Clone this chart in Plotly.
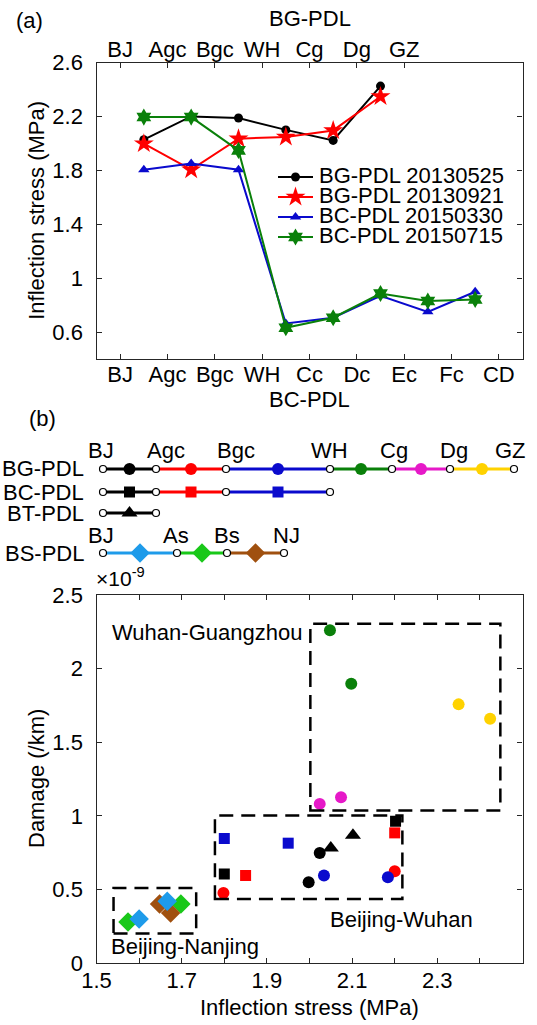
import plotly.graph_objects as go

W, H = 537, 1025
FONT = "Arial, Liberation Sans, Helvetica, sans-serif"
AX = "#262626"
FS = 22

# ---------------- Panel (a) data ----------------
top_stations = ["BJ", "Agc", "Bgc", "WH", "Cg", "Dg", "GZ"]
bottom_stations = ["BJ", "Agc", "Bgc", "WH", "Cc", "Dc", "Ec", "Fc", "CD"]
bg_segments = [1.5, 2.5, 3.5, 4.5, 5.5, 6.5]
bc_segments = [1.5, 2.5, 3.5, 4.5, 5.5, 6.5, 7.5, 8.5]
bg_20130525 = [2.027, 2.200, 2.188, 2.100, 2.022, 2.425]
bg_20130921 = [1.998, 1.805, 2.035, 2.047, 2.096, 2.348]
bc_20150330 = [1.805, 1.850, 1.805, 0.664, 0.706, 0.869, 0.750, 0.899]
bc_20150715 = [2.195, 2.195, 1.948, 0.632, 0.706, 0.886, 0.830, 0.842]
series_names = ["BG-PDL 20130525", "BG-PDL 20130921", "BC-PDL 20150330", "BC-PDL 20150715"]
a_yticks = [0.6, 1.0, 1.4, 1.8, 2.2, 2.6]
a_yticklabels = ["0.6", "1", "1.4", "1.8", "2.2", "2.6"]

# ---------------- Panel (b) schematic routes ----------------
bg_route = ["BJ", "Agc", "Bgc", "WH", "Cg", "Dg", "GZ"]
bc_route = ["BJ", "Agc", "Bgc", "WH"]
bt_route = ["BJ", "Agc"]
bs_route = ["BJ", "As", "Bs", "NJ"]
line_names = ["BG-PDL", "BC-PDL", "BT-PDL", "BS-PDL"]

# ---------------- Panel (b) scatter data: inflection stress (MPa), damage (/km) ----------------
green_c_x = [2.048, 2.098];  green_c_y = [2.26e-9, 1.897e-9]
gold_c_x = [2.350, 2.424];   gold_c_y = [1.757e-9, 1.659e-9]
mag_c_x = [2.024, 2.074];    mag_c_y = [1.081e-9, 1.126e-9]
black_c_x = [2.024, 1.998];  black_c_y = [0.748e-9, 0.549e-9]
red_c_x = [1.798, 2.200];    red_c_y = [0.476e-9, 0.623e-9]
blue_c_x = [2.034, 2.184];   blue_c_y = [0.594e-9, 0.583e-9]
red_s_x = [2.200, 1.850];    red_s_y = [0.884e-9, 0.594e-9]
black_s_x = [2.202, 1.800];  black_s_y = [0.963e-9, 0.605e-9]
blue_s_x = [1.800, 1.950];   blue_s_y = [0.845e-9, 0.814e-9]
black_t_x = [2.050, 2.102];  black_t_y = [0.782e-9, 0.868e-9]
green_d_x = [1.574, 1.698];  green_d_y = [0.279e-9, 0.401e-9]
brown_d_x = [1.648, 1.674];  brown_d_y = [0.401e-9, 0.340e-9]
lblue_d_x = [1.600, 1.666];  lblue_d_y = [0.299e-9, 0.419e-9]
b_yticks = [0, 0.5e-9, 1.0e-9, 1.5e-9, 2.0e-9, 2.5e-9]
b_yticklabels = ["0", "0.5", "1", "1.5", "2", "2.5"]
groups = [  # region boxes: name, x0, x1, y0, y1
    ("Wuhan-Guangzhou", 2.002, 2.448, 1.036e-9, 2.305e-9),
    ("Beijing-Wuhan", 1.778, 2.218, 0.435e-9, 1.002e-9),
    ("Beijing-Nanjing", 1.540, 1.734, 0.200e-9, 0.510e-9),
]

# ---------------- styles ----------------
C = dict(black="#000000", red="#FF0000", blue="#0A0ACD", green="#0A800A",
         magenta="#E619C8", gold="#FFD200", lblue="#1E9BEA", lgreen="#19C819",
         brown="#A0500F")
a_styles = [
    dict(color=C["black"], symbol="circle", size=9),
    dict(color=C["red"], symbol="star", size=15),
    dict(color=C["blue"], symbol="triangle-up", size=10),
    dict(color=C["green"], symbol="hexagram", size=13),
]


def fx(px):
    return px / W


def fy(py):
    return 1 - py / H


# layout geometry in pixels
A_L, A_R, A_T, A_B = 96.5, 522.5, 62.5, 359
B_L, B_R, B_T, B_B = 96.5, 522.5, 595, 963

fig = go.Figure()

# ---- panel (a) traces
a_x = [bg_segments, bg_segments, bc_segments, bc_segments]
a_y = [bg_20130525, bg_20130921, bc_20150330, bc_20150715]
for xs, ys, nm, st in zip(a_x, a_y, series_names, a_styles):
    fig.add_trace(go.Scatter(
        x=xs, y=ys, name=nm, mode="lines+markers", xaxis="x", yaxis="y",
        line=dict(color=st["color"], width=2),
        marker=dict(color=st["color"], symbol=st["symbol"], size=st["size"],
                    line=dict(width=0)),
        showlegend=False, cliponaxis=False))
# top station axis (BG-PDL) needs a trace to be drawn
fig.add_trace(go.Scatter(x=[1], y=[None], xaxis="x2", yaxis="y", mode="markers",
                         showlegend=False, hoverinfo="skip"))

# ---- panel (b) scatter traces
sc = [
    (green_c_x, green_c_y, C["green"], "circle", 12),
    (gold_c_x, gold_c_y, C["gold"], "circle", 12),
    (mag_c_x, mag_c_y, C["magenta"], "circle", 12),
    (red_c_x, red_c_y, C["red"], "circle", 12),
    (black_c_x, black_c_y, C["black"], "circle", 12),
    (blue_c_x, blue_c_y, C["blue"], "circle", 12),
    (red_s_x, red_s_y, C["red"], "square", 11),
    (black_s_x, black_s_y, C["black"], "square", 11),
    (blue_s_x, blue_s_y, C["blue"], "square", 11),
    (black_t_x, black_t_y, C["black"], "triangle-up", 14),
    (green_d_x, green_d_y, C["lgreen"], "diamond", 15),
    (brown_d_x, brown_d_y, C["brown"], "diamond", 15),
    (lblue_d_x, lblue_d_y, C["lblue"], "diamond", 15),
]
for xs, ys, col, sym, sz in sc:
    fig.add_trace(go.Scatter(
        x=xs, y=ys, mode="markers", xaxis="x3", yaxis="y3",
        marker=dict(color=col, symbol=sym, size=sz, line=dict(width=0)),
        showlegend=False))

for nm, x0, x1, y0, y1 in groups:
    fig.add_shape(type="rect", xref="x3", yref="y3", x0=x0, x1=x1, y0=y0, y1=y1,
                  line=dict(color="black", width=2.5, dash="14px,8px"))

# ---- overlay pixel axis (x4/y4) for schematic and legend
bg_node_px = [103, 156, 226, 330, 392, 450, 514]
bs_node_px = [103, 177, 227, 284]
row_y = [469, 492, 513, 553]
bg_seg_colors = [C["black"], C["red"], C["blue"], C["green"], C["magenta"], C["gold"]]
bc_seg_colors = [C["black"], C["red"], C["blue"]]
bt_seg_colors = [C["black"]]
bs_seg_colors = [C["lblue"], C["lgreen"], C["brown"]]
routes = [
    (bg_route, bg_node_px, bg_seg_colors, "circle", 12),
    (bc_route, bg_node_px[:4], bc_seg_colors, "square", 11),
    (bt_route, bg_node_px[:2], bt_seg_colors, "triangle-up", 14),
    (bs_route, bs_node_px, bs_seg_colors, "diamond", 15),
]
for (route, nodes, cols, sym, sz), ry in zip(routes, row_y):
    for i, col in enumerate(cols):
        xa, xb = nodes[i], nodes[i + 1]
        fig.add_trace(go.Scatter(
            x=[xa, xb], y=[ry, ry], mode="lines", xaxis="x4", yaxis="y4",
            line=dict(color=col, width=3), showlegend=False, hoverinfo="skip"))
        fig.add_trace(go.Scatter(
            x=[(xa + xb) / 2], y=[ry], mode="markers", xaxis="x4", yaxis="y4",
            marker=dict(color=col, symbol=sym, size=sz, line=dict(width=0)),
            showlegend=False, hoverinfo="skip"))
    fig.add_trace(go.Scatter(
        x=nodes, y=[ry] * len(nodes), mode="markers", xaxis="x4", yaxis="y4",
        marker=dict(color="white", symbol="circle", size=7,
                    line=dict(color="black", width=1.2)),
        showlegend=False, hoverinfo="skip"))

# manual legend for panel (a)
leg_y = [177, 197, 217, 237]
for nm, st, ly in zip(series_names, a_styles, leg_y):
    fig.add_trace(go.Scatter(
        x=[278, 295.5, 313], y=[ly, ly, ly], mode="lines", xaxis="x4", yaxis="y4",
        line=dict(color=st["color"], width=2), showlegend=False, hoverinfo="skip"))
    fig.add_trace(go.Scatter(
        x=[295.5], y=[ly], mode="markers", xaxis="x4", yaxis="y4",
        marker=dict(color=st["color"], symbol=st["symbol"], size=st["size"],
                    line=dict(width=0)),
        showlegend=False, hoverinfo="skip"))
fig.add_trace(go.Scatter(
    x=[319] * 4, y=leg_y, text=series_names, mode="text", textposition="middle right",
    xaxis="x4", yaxis="y4", textfont=dict(family=FONT, size=FS, color="black"),
    showlegend=False, hoverinfo="skip"))

ann = []


def text(x, y, s, size=FS, xanchor="center", yanchor="middle", angle=0):
    ann.append(dict(x=fx(x), y=fy(y), xref="paper", yref="paper", text=s,
                    showarrow=False, xanchor=xanchor, yanchor=yanchor,
                    textangle=angle, font=dict(family=FONT, size=size, color="black")))


text(30, 20, "(a)")
text(310, 18, "BG-PDL")
text(309, 399, "BC-PDL")
text(37, (A_T + A_B) / 2, "Inflection stress (MPa)", angle=-90)
text(42, 419, "(b)")

# schematic labels
bg_label_px = [101, 166, 236, 329, 394, 454, 510]
bs_label_px = [101, 176, 227, 286]
for s, x in zip(bg_route, bg_label_px):
    text(x, 451, s)
for s, x in zip(bs_route, bs_label_px):
    text(x, 535, s)
for s, ry in zip(line_names, row_y):
    text(86, ry, s, xanchor="right")

# panel (b) texts
text(36, (B_T + B_B) / 2, "Damage (/km)", angle=-90)
text(309, 1007, "Inflection stress (MPa)")
ann.append(dict(x=fx(94), y=fy(592), xref="paper", yref="paper",
                text="\u00d710<sup>-9</sup>", showarrow=False, xanchor="left",
                yanchor="bottom", font=dict(family=FONT, size=21, color="black")))
label_pos = [(1.532, 2.244e-9), (2.044, 0.295e-9), (1.530, 0.109e-9)]
for (nm, *_), (lx, ly) in zip(groups, label_pos):
    ann.append(dict(x=lx, y=ly, xref="x3", yref="y3", text=nm, showarrow=False,
                    xanchor="left", yanchor="middle",
                    font=dict(family=FONT, size=FS, color="black")))

tickfont = dict(family=FONT, size=FS, color="black")
common = dict(showgrid=False, zeroline=False, ticks="inside", ticklen=5, tickwidth=1,
              tickcolor=AX, linecolor=AX, linewidth=1.3, showline=True, tickfont=tickfont)

fig.update_layout(
    width=W, height=H, autosize=False,
    margin=dict(l=0, r=0, t=0, b=0, pad=0, autoexpand=False),
    paper_bgcolor="white", plot_bgcolor="rgba(0,0,0,0)",
    showlegend=False,
    font=dict(family=FONT, color="black"),
    xaxis=dict(domain=[fx(A_L), fx(A_R)], anchor="y", range=[0.5, 9.5],
               tickmode="array", tickvals=list(range(1, 10)), ticktext=bottom_stations,
               mirror=True, ticklabelstandoff=-5, **common),
    xaxis2=dict(overlaying="x", side="top", anchor="y", range=[0.5, 9.5],
                tickmode="array", tickvals=list(range(1, 8)), ticktext=top_stations,
                showgrid=False, zeroline=False, ticks="inside", ticklen=5,
                tickcolor=AX, showline=False, tickfont=tickfont, ticklabelstandoff=0),
    yaxis=dict(domain=[fy(A_B), fy(A_T)], anchor="x", range=[0.4, 2.6],
               tickmode="array", tickvals=a_yticks, ticktext=a_yticklabels,
               mirror="ticks", ticklabelstandoff=8, **common),
    xaxis3=dict(domain=[fx(B_L), fx(B_R)], anchor="y3", range=[1.5, 2.5],
                tickmode="linear", tick0=1.5, dtick=0.2, tickformat=".1f",
                minor=dict(dtick=0.1, tick0=1.5, ticks="inside", ticklen=5,
                           tickcolor=AX, showgrid=False),
                mirror="ticks", ticklabelstandoff=-3, **common),
    yaxis3=dict(domain=[fy(B_B), fy(B_T)], anchor="x3", range=[0, 2.5e-9],
                tickmode="array", tickvals=b_yticks, ticktext=b_yticklabels,
                mirror="ticks", ticklabelstandoff=8, **common),
    xaxis4=dict(domain=[0, 1], anchor="y4", range=[0, W], visible=False, fixedrange=True),
    yaxis4=dict(domain=[0, 1], anchor="x4", range=[H, 0], visible=False, fixedrange=True),
    annotations=ann,
)

fig.write_html("out.html")
